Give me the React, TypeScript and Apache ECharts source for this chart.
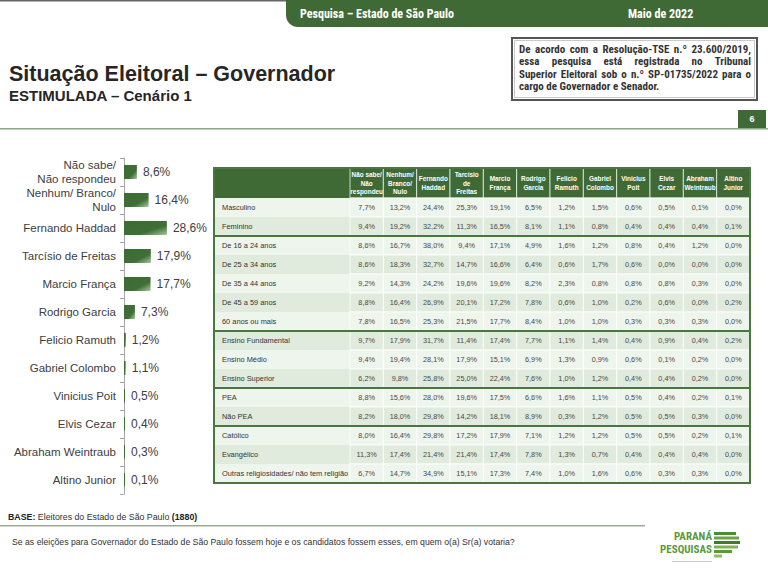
import React, { useEffect, useRef } from "react";
import * as echarts from "echarts";

// ---- Bar chart data ----
const barCategories = [
  "Não sabe/\nNão respondeu",
  "Nenhum/ Branco/\nNulo",
  "Fernando Haddad",
  "Tarcísio de Freitas",
  "Marcio França",
  "Rodrigo Garcia",
  "Felicio Ramuth",
  "Gabriel Colombo",
  "Vinicius Poit",
  "Elvis Cezar",
  "Abraham Weintraub",
  "Altino Junior",
];
const barValues = [8.6, 16.4, 28.6, 17.9, 17.7, 7.3, 1.2, 1.1, 0.5, 0.4, 0.3, 0.1];

// ---- Table data ----
const tableColumns = [
  "Não sabe/\nNão\nrespondeu",
  "Nenhum/\nBranco/\nNulo",
  "Fernando\nHaddad",
  "Tarcísio\nde\nFreitas",
  "Marcio\nFrança",
  "Rodrigo\nGarcia",
  "Felicio\nRamuth",
  "Gabriel\nColombo",
  "Vinicius\nPoit",
  "Elvis\nCezar",
  "Abraham\nWeintraub",
  "Altino\nJunior",
];
const tableRows = [
  "Masculino",
  "Feminino",
  "De 16 a 24 anos",
  "De 25 a 34 anos",
  "De 35 a 44 anos",
  "De 45 a 59 anos",
  "60 anos ou mais",
  "Ensino Fundamental",
  "Ensino Médio",
  "Ensino Superior",
  "PEA",
  "Não PEA",
  "Católico",
  "Evangélico",
  "Outras religiosidades/ não tem religião",
];
const masculino = [7.7, 13.2, 24.4, 25.3, 19.1, 6.5, 1.2, 1.5, 0.6, 0.5, 0.1, 0.0];
const feminino = [9.4, 19.2, 32.2, 11.3, 16.5, 8.1, 1.1, 0.8, 0.4, 0.4, 0.4, 0.1];
const de16a24 = [8.6, 16.7, 38.0, 9.4, 17.1, 4.9, 1.6, 1.2, 0.8, 0.4, 1.2, 0.0];
const de25a34 = [8.6, 18.3, 32.7, 14.7, 16.6, 6.4, 0.6, 1.7, 0.6, 0.0, 0.0, 0.0];
const de35a44 = [9.2, 14.3, 24.2, 19.6, 19.6, 8.2, 2.3, 0.8, 0.8, 0.8, 0.3, 0.0];
const de45a59 = [8.8, 16.4, 26.9, 20.1, 17.2, 7.8, 0.6, 1.0, 0.2, 0.6, 0.0, 0.2];
const de60mais = [7.8, 16.5, 25.3, 21.5, 17.7, 8.4, 1.0, 1.0, 0.3, 0.3, 0.3, 0.0];
const ensFundamental = [9.7, 17.9, 31.7, 11.4, 17.4, 7.7, 1.1, 1.4, 0.4, 0.9, 0.4, 0.2];
const ensMedio = [9.4, 19.4, 28.1, 17.9, 15.1, 6.9, 1.3, 0.9, 0.6, 0.1, 0.2, 0.0];
const ensSuperior = [6.2, 9.8, 25.8, 25.0, 22.4, 7.6, 1.0, 1.2, 0.4, 0.4, 0.2, 0.0];
const pea = [8.8, 15.6, 28.0, 19.6, 17.5, 6.6, 1.6, 1.1, 0.5, 0.4, 0.2, 0.1];
const naoPea = [8.2, 18.0, 29.8, 14.2, 18.1, 8.9, 0.3, 1.2, 0.5, 0.5, 0.3, 0.0];
const catolico = [8.0, 16.4, 29.8, 17.2, 17.9, 7.1, 1.2, 1.2, 0.5, 0.5, 0.2, 0.1];
const evangelico = [11.3, 17.4, 21.4, 21.4, 17.4, 7.8, 1.3, 0.7, 0.4, 0.4, 0.4, 0.0];
const outrasReligioes = [6.7, 14.7, 34.9, 15.1, 17.3, 7.4, 1.0, 1.6, 0.6, 0.3, 0.3, 0.0];
const tableValues = [
  masculino, feminino, de16a24, de25a34, de35a44, de45a59, de60mais,
  ensFundamental, ensMedio, ensSuperior, pea, naoPea, catolico, evangelico, outrasReligioes,
];
// row indices where a new group begins
const groupStarts = [2, 7, 10, 12];

const noteLines = [
  "De acordo com a Resolução-TSE n.º 23.600/2019,",
  "essa pesquisa está registrada no Tribunal",
  "Superior Eleitoral sob o n.º SP-01735/2022 para o",
  "cargo de Governador e Senador.",
];

const FONT = "'Liberation Sans', Arial, sans-serif";
const NARROW = "'Liberation Sans Narrow', 'Arial Narrow', 'Roboto Condensed', 'Liberation Sans', sans-serif";
const GREEN = "#3f6a36";
const ROW_LIGHT = "#eef5ec";
const ROW_DARK = "#e0ebdd";

const fmt = (v: number) => v.toFixed(1).replace(".", ",") + "%";

// table layout
const T_LEFT = 214;
const T_DATA_LEFT = 350;
const T_RIGHT = 750;
const T_HEAD_TOP = 168;
const T_HEAD_H = 30;
const T_ROW_H = 19;
const T_BODY_TOP = T_HEAD_TOP + T_HEAD_H;

function justified(line: string, x: number, y: number, width: number, font: string, justify: boolean) {
  if (!justify) {
    return [{ type: "text", x, y, style: { text: line, fill: "#333", font, verticalAlign: "middle" } }];
  }
  const words = line.split(" ");
  const ctx = document.createElement("canvas").getContext("2d") as CanvasRenderingContext2D;
  ctx.font = font;
  const widths = words.map((w) => ctx.measureText(w).width);
  const total = widths.reduce((a, b) => a + b, 0);
  const gap = (width - total) / (words.length - 1);
  let cx = x;
  return words.map((w, i) => {
    const el = { type: "text", x: cx, y, style: { text: w, fill: "#333", font, verticalAlign: "middle" } };
    cx += widths[i] + gap;
    return el;
  });
}

export default function App() {
  const ref = useRef<HTMLDivElement>(null);
  useEffect(() => {
    if (!ref.current) return;
    const chart = echarts.init(ref.current, undefined, { renderer: "svg" });

    const bodyData: number[][] = [];
    tableValues.forEach((row, r) => row.forEach((_, c) => bodyData.push([c, r])));
    const headData = tableColumns.map((_, c) => [c, 0]);
    const bodyH = T_ROW_H * tableRows.length;
    const noteFont = `bold 11px ${NARROW}`;
    const labelStyle = (bg: string) => ({
      backgroundColor: bg, width: T_DATA_LEFT - T_LEFT - 8, height: T_ROW_H,
      lineHeight: T_ROW_H, padding: [0, 0, 0, 8], fontSize: 7.4, color: "#333", fontFamily: FONT,
      overflow: "none",
    });

    const graphics: any[] = [
      { type: "rect", shape: { x: 0, y: 0, width: 768, height: 1.5 }, style: { fill: "#666" } },
      {
        type: "rect",
        shape: { x: 286, y: 0, width: 482, height: 27, r: [0, 0, 0, 12] },
        style: { fill: GREEN },
      },
      {
        type: "text", x: 300, y: 14,
        style: { text: "Pesquisa – Estado de São Paulo", fill: "#fff", font: `bold 12px ${NARROW}`, verticalAlign: "middle" },
      },
      {
        type: "text", x: 628, y: 14,
        style: { text: "Maio de 2022", fill: "#fff", font: `bold 12px ${NARROW}`, verticalAlign: "middle" },
      },
      {
        type: "text", x: 9, y: 74,
        style: { text: "Situação Eleitoral – Governador", fill: "#262626", font: `bold 21.5px ${FONT}`, verticalAlign: "middle" },
      },
      {
        type: "text", x: 9, y: 95,
        style: { text: "ESTIMULADA – Cenário 1", fill: "#262626", font: `bold 15px ${FONT}`, verticalAlign: "middle" },
      },
      {
        type: "rect",
        shape: { x: 512, y: 38, width: 245, height: 62 },
        style: { fill: "#fff", stroke: "#555", lineWidth: 2 },
      },
      {
        type: "rect",
        shape: { x: 514.5, y: 40.5, width: 240, height: 57 },
        style: { fill: "none", stroke: "#bbb", lineWidth: 0.8 },
      },
      ...noteLines.flatMap((t, i) => justified(t, 519, 49 + i * 12.6, 232, noteFont, i < noteLines.length - 1)),
      { type: "rect", shape: { x: 738, y: 110, width: 28, height: 18 }, style: { fill: GREEN } },
      {
        type: "text", x: 752, y: 119,
        style: { text: "6", fill: "#fff", font: `bold 9px ${FONT}`, align: "center", verticalAlign: "middle" },
      },
      { type: "rect", shape: { x: 0, y: 128, width: 768, height: 1.5 }, style: { fill: "#8da385" } },
      // table header left part
      {
        type: "rect",
        shape: { x: T_LEFT, y: T_HEAD_TOP, width: T_DATA_LEFT - T_LEFT, height: T_HEAD_H },
        style: { fill: GREEN },
      },
      // group separators
      ...groupStarts.map((k) => ({
        type: "line",
        z: 10,
        shape: { x1: T_LEFT, y1: T_BODY_TOP + k * T_ROW_H, x2: T_RIGHT, y2: T_BODY_TOP + k * T_ROW_H },
        style: { stroke: "#4a7641", lineWidth: 2 },
      })),
      // outer border
      {
        type: "rect",
        z: 10,
        shape: { x: T_LEFT, y: T_HEAD_TOP, width: T_RIGHT - T_LEFT, height: T_HEAD_H + bodyH },
        style: { fill: "none", stroke: "#4a7641", lineWidth: 2 },
      },
      // bottom
      {
        type: "text", x: 8, y: 517,
        style: {
          text: "{b|BASE:} Eleitores do Estado de São Paulo {b|(1880)}",
          fill: "#333", font: `8.8px ${FONT}`, verticalAlign: "middle",
          rich: { b: { fontWeight: "bold", fontSize: 8.8, fontFamily: FONT, fill: "#222" } },
        },
      },
      { type: "rect", shape: { x: 0, y: 525, width: 645, height: 1.5 }, style: { fill: "#9aab92" } },
      {
        type: "text", x: 12, y: 542,
        style: {
          text: "Se as eleições para Governador do Estado de São Paulo fossem hoje e os candidatos fossem esses, em quem o(a) Sr(a) votaria?",
          fill: "#333", font: `8.7px ${FONT}`, verticalAlign: "middle",
        },
      },
      // logo
      {
        type: "text", x: 712, y: 536,
        style: { text: "PARANÁ", fill: "#5a9a3c", font: `bold 11px ${NARROW}`, align: "right", verticalAlign: "middle" },
      },
      {
        type: "text", x: 712, y: 549,
        style: { text: "PESQUISAS", fill: "#5a9a3c", font: `bold 11px ${NARROW}`, align: "right", verticalAlign: "middle" },
      },
      ...[
        [714, 532, 22, "#4f8a36"],
        [714, 536.5, 25, "#6aa545"],
        [714, 541, 26, "#3f7a2e"],
        [714, 545.5, 24, "#7db356"],
        [714, 550, 18, "#5b9a3c"],
        [714, 554.5, 8, "#8cbf62"],
      ].map(([x, y, w, c]) => ({
        type: "rect", shape: { x, y, width: w, height: 3 }, style: { fill: c },
      })),
      { type: "rect", shape: { x: 672, y: 561, width: 40, height: 1 }, style: { fill: "#c8c8c8" } },
    ];

    chart.setOption({
      animation: false,
      backgroundColor: "#fff",
      textStyle: { fontFamily: FONT },
      grid: [
        { left: 124, top: 158, width: 45, height: 336, outerBoundsMode: "none", containLabel: false },
        { left: T_DATA_LEFT, top: T_HEAD_TOP, width: T_RIGHT - T_DATA_LEFT, height: T_HEAD_H, outerBoundsMode: "none", containLabel: false },
        { left: T_DATA_LEFT, top: T_BODY_TOP, width: T_RIGHT - T_DATA_LEFT, height: bodyH, outerBoundsMode: "none", containLabel: false },
      ],
      xAxis: [
        { gridIndex: 0, type: "value", min: 0, max: 30, show: false },
        { gridIndex: 1, type: "category", data: tableColumns, show: false },
        { gridIndex: 2, type: "category", data: tableColumns, show: false },
      ],
      yAxis: [
        {
          gridIndex: 0,
          type: "category",
          data: barCategories,
          inverse: true,
          axisLine: { show: true, lineStyle: { color: "#a6a6a6", width: 1 } },
          axisTick: { show: true, length: 4, lineStyle: { color: "#a6a6a6" } },
          axisLabel: { color: "#404040", fontSize: 11.5, margin: 8, lineHeight: 14, fontFamily: FONT },
          splitLine: { show: false },
        },
        { gridIndex: 1, type: "category", data: ["h"], show: false },
        {
          gridIndex: 2,
          type: "category",
          data: tableRows,
          inverse: true,
          axisLine: { show: false },
          axisTick: { show: false },
          splitLine: { show: false },
          axisLabel: {
            align: "left",
            margin: T_DATA_LEFT - T_LEFT,
            formatter: (v: string, i: number) => `{${i % 2 ? "d" : "l"}|${v}}`,
            rich: { l: labelStyle(ROW_LIGHT), d: labelStyle(ROW_DARK) },
          },
        },
      ],
      series: [
        {
          type: "bar",
          xAxisIndex: 0,
          yAxisIndex: 0,
          data: barValues,
          barWidth: 14,
          barMinHeight: 1,
          itemStyle: {
            color: new echarts.graphic.LinearGradient(0, 0, 1, 1, [
              { offset: 0, color: "#3c6a34" },
              { offset: 0.65, color: "#3f6f37" },
              { offset: 1, color: "#a9c6a0" },
            ]),
          },
          label: {
            show: true,
            position: "right",
            distance: 6,
            color: "#404040",
            fontSize: 12,
            fontFamily: FONT,
            formatter: (p: any) => fmt(p.value),
          },
        },
        {
          type: "custom",
          xAxisIndex: 1,
          yAxisIndex: 1,
          data: headData,
          renderItem: (params: any, api: any) => {
            const c = api.value(0);
            const pt = api.coord([c, 0]);
            const sz = api.size([1, 1]);
            return {
              type: "group",
              children: [
                {
                  type: "rect",
                  shape: { x: pt[0] - sz[0] / 2, y: pt[1] - sz[1] / 2, width: sz[0], height: sz[1] },
                  style: { fill: GREEN, stroke: "#e8efe6", lineWidth: 0.8 },
                },
                {
                  type: "text",
                  x: pt[0],
                  y: pt[1],
                  style: {
                    text: tableColumns[params.dataIndex],
                    fill: "#fff",
                    font: `bold 6.4px ${FONT}`,
                    lineHeight: 8.3,
                    align: "center",
                    verticalAlign: "middle",
                  },
                },
              ],
            };
          },
        },
        {
          type: "custom",
          xAxisIndex: 2,
          yAxisIndex: 2,
          data: bodyData,
          renderItem: (params: any, api: any) => {
            const c = api.value(0);
            const r = api.value(1);
            const pt = api.coord([c, r]);
            const sz = api.size([1, 1]);
            return {
              type: "group",
              children: [
                {
                  type: "rect",
                  shape: { x: pt[0] - sz[0] / 2, y: pt[1] - sz[1] / 2, width: sz[0], height: sz[1] },
                  style: { fill: r % 2 ? ROW_DARK : ROW_LIGHT, stroke: "#ffffff", lineWidth: 0.8 },
                },
                {
                  type: "text",
                  x: pt[0],
                  y: pt[1],
                  style: {
                    text: fmt(tableValues[r][c]),
                    fill: "#484848",
                    font: `7.3px ${FONT}`,
                    align: "center",
                    verticalAlign: "middle",
                  },
                },
              ],
            };
          },
        },
      ],
      graphic: graphics,
    });
    return () => chart.dispose();
  }, []);
  return (
    <div
      ref={ref}
      style={{ position: "absolute", left: 0, top: 0, width: 768, height: 579 }}
    />
  );
}
